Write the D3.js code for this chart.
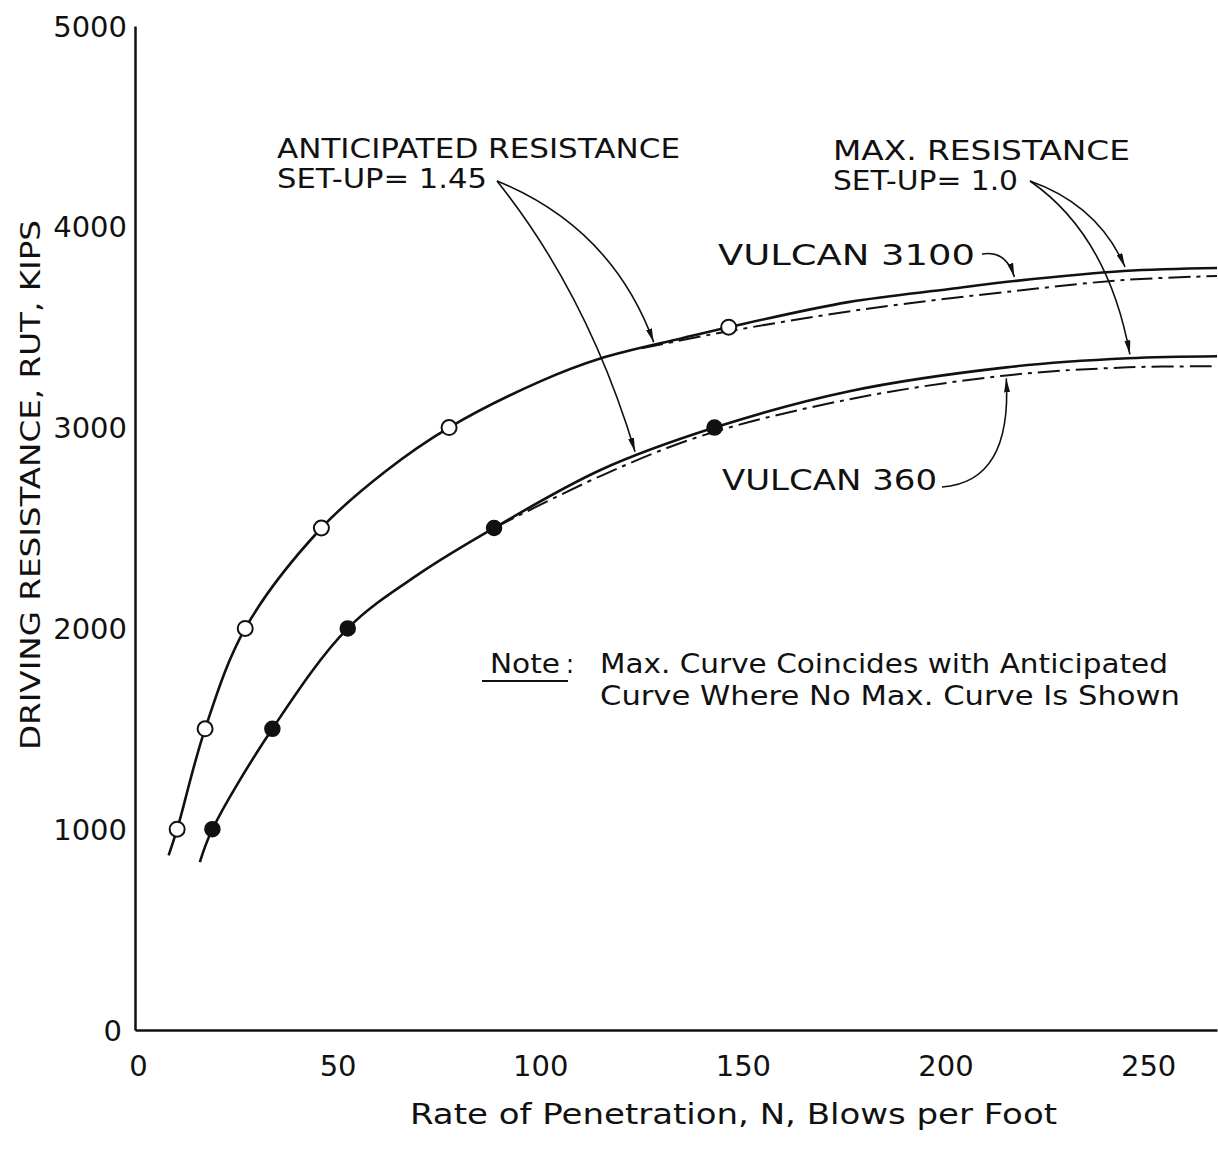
<!DOCTYPE html>
<html>
<head>
<meta charset="utf-8">
<script src="https://cdn.jsdelivr.net/npm/d3@7"></script>
<style>
  body { margin: 0; background: #fff; }
  svg { display: block; }
  text { font-family: "DejaVu Sans", "Liberation Sans", sans-serif; fill: #111; }
</style>
</head>
<body>
<svg width="1218" height="1158"></svg>
<script>
// Vulcan 3100 - anticipated resistance (solid) and test points (open circles)
const v3100Anticipated = [
    [8.3, 870], [10.4, 1000], [17.3, 1500], [27.2, 2000], [46, 2500], [62, 2785], [77.5, 3000],
    [100, 3230], [115, 3345], [135, 3445], [146.5, 3500], [176, 3625], [201, 3690],
    [217, 3730], [244, 3780], [267, 3795]
];
const v3100Points = [[10.4, 1000], [17.3, 1500], [27.2, 2000], [46, 2500], [77.5, 3000], [146.5, 3500]];
// Vulcan 3100 - max resistance (dash-dot), only where it leaves the anticipated curve
const v3100Max = [[125, 3395], [146.5, 3480], [180, 3590], [217, 3680], [244, 3735], [267, 3755]];

// Vulcan 360
const v360Anticipated = [
    [16, 836], [19.1, 1000], [33.9, 1500], [52.5, 2000], [70, 2270], [88.6, 2500], [115, 2790],
    [143, 3000], [176, 3180], [215, 3300], [245, 3345], [267, 3355]
];
const v360Points = [[19.1, 1000], [33.9, 1500], [52.5, 2000], [88.6, 2500], [143, 3000]];
const v360Max = [[88.6, 2500], [115, 2760], [140, 2960], [176, 3140], [215, 3260], [245, 3300], [267, 3305]];

// axis ticks
const xTicks = [0, 50, 100, 150, 200, 250];
const yTicks = [0, 1000, 2000, 3000, 4000, 5000];

const svg = d3.select("svg");

const x = d3.scaleLinear().domain([0, 267]).range([135, 1217]);
const y = d3.scaleLinear().domain([0, 5000]).range([1030, 26]);

// arrow head
svg.append("defs").append("marker")
    .attr("id", "arrow")
    .attr("viewBox", "0 0 14 6")
    .attr("refX", 14).attr("refY", 3)
    .attr("markerWidth", 14).attr("markerHeight", 6)
    .attr("markerUnits", "userSpaceOnUse")
    .attr("orient", "auto")
    .append("path")
    .attr("d", "M0,0 L14,3 L0,6 Z")
    .attr("fill", "#111");

// axes (no tick marks, just the lines and numbers)
const xAxis = svg.append("g")
    .attr("transform", `translate(0,${y(0)})`)
    .call(d3.axisBottom(x).tickValues(xTicks).tickSize(0).tickPadding(25).tickFormat(d3.format("d")));
const yAxis = svg.append("g")
    .attr("transform", `translate(${x(0)},0)`)
    .call(d3.axisLeft(y).tickValues(yTicks).tickSize(0).tickPadding(8).tickFormat(d3.format("d")));

[xAxis, yAxis].forEach(a => {
    a.select(".domain").attr("stroke", "#111").attr("stroke-width", 2.5);
    a.selectAll("text").attr("font-size", 29).attr("font-family", "DejaVu Sans").attr("fill", "#111");
});
yAxis.selectAll("text").attr("dy", "0.35em");
// the "0" on the y axis sits a bit lower/left in the drawing
yAxis.selectAll(".tick text").filter(d => d === 0).attr("x", -13);
xAxis.selectAll(".tick text").filter(d => d === 0).attr("dx", 3);

// curves
const line = d3.line()
    .x(d => x(d[0]))
    .y(d => y(d[1]))
    .curve(d3.curveCatmullRom.alpha(0.5));

const series = [
    { data: v3100Max, dash: "22,6,4,6", width: 2 },
    { data: v360Max, dash: "22,6,4,6", width: 2 },
    { data: v3100Anticipated, dash: null, width: 2.6 },
    { data: v360Anticipated, dash: null, width: 2.6 }
];

svg.selectAll("path.curve")
    .data(series)
    .enter()
    .append("path")
    .attr("class", "curve")
    .attr("d", d => line(d.data))
    .attr("fill", "none")
    .attr("stroke", "#111")
    .attr("stroke-width", d => d.width)
    .attr("stroke-dasharray", d => d.dash);

// test points
svg.selectAll("circle.open")
    .data(v3100Points)
    .enter()
    .append("circle")
    .attr("class", "open")
    .attr("cx", d => x(d[0]))
    .attr("cy", d => y(d[1]))
    .attr("r", 7.5)
    .attr("fill", "#fff")
    .attr("stroke", "#111")
    .attr("stroke-width", 2);

svg.selectAll("circle.filled")
    .data(v360Points)
    .enter()
    .append("circle")
    .attr("class", "filled")
    .attr("cx", d => x(d[0]))
    .attr("cy", d => y(d[1]))
    .attr("r", 7.5)
    .attr("fill", "#111")
    .attr("stroke", "#111")
    .attr("stroke-width", 1.5);

// leader arrows: start (pixels, at the label) -> tip (data space, on the curve)
const leaders = [
    { from: [497, 181], ctrl: [612, 228], tip: [128, 3425] },
    { from: [497, 181], ctrl: [588, 295], tip: [123.4, 2880] },
    { from: [1030, 181], ctrl: [1098, 205], tip: [244.3, 3800] },
    { from: [1030, 181], ctrl: [1108, 235], tip: [245.5, 3365] },
    { from: [982, 254], ctrl: [1006, 250], tip: [217, 3750] },
    { from: [942, 487], ctrl: [1012, 482], tip: [215, 3245] }
];

svg.selectAll("path.leader")
    .data(leaders)
    .enter()
    .append("path")
    .attr("class", "leader")
    .attr("d", d => `M${d.from[0]},${d.from[1]} Q${d.ctrl[0]},${d.ctrl[1]} ${x(d.tip[0])},${y(d.tip[1])}`)
    .attr("fill", "none")
    .attr("stroke", "#111")
    .attr("stroke-width", 1.6)
    .attr("marker-end", "url(#arrow)");

// labels
const labels = [
    { text: "ANTICIPATED RESISTANCE", x: 277, y: 158, size: 27, len: 403 },
    { text: "SET-UP= 1.45", x: 277, y: 188, size: 27, len: 210 },
    { text: "MAX. RESISTANCE", x: 833, y: 160, size: 27, len: 297 },
    { text: "SET-UP= 1.0", x: 833, y: 190, size: 27, len: 185 },
    { text: "VULCAN 3100", x: 718, y: 265, size: 29, len: 257 },
    { text: "VULCAN 360", x: 722, y: 490, size: 29, len: 215 },
    { text: "Note", x: 490, y: 673, size: 26, len: 70 },
    { text: ":", x: 566, y: 673, size: 26, len: 8 },
    { text: "Max. Curve Coincides with Anticipated", x: 600, y: 673, size: 26, len: 568 },
    { text: "Curve Where No Max. Curve Is Shown", x: 600, y: 705, size: 26, len: 580 },
    { text: "Rate of Penetration, N, Blows per Foot", x: 410, y: 1124, size: 28, len: 647 }
];

svg.selectAll("text.label")
    .data(labels)
    .enter()
    .append("text")
    .attr("class", "label")
    .attr("x", d => d.x)
    .attr("y", d => d.y)
    .attr("font-size", d => d.size)
    .attr("textLength", d => d.len)
    .attr("lengthAdjust", "spacingAndGlyphs")
    .text(d => d.text);

// underline under "Note"
svg.append("line")
    .attr("x1", 482).attr("x2", 568)
    .attr("y1", 681).attr("y2", 681)
    .attr("stroke", "#111").attr("stroke-width", 2);

// y axis title
svg.append("text")
    .attr("transform", "translate(40,485) rotate(-90)")
    .attr("text-anchor", "middle")
    .attr("font-size", 27)
    .attr("textLength", 530)
    .attr("lengthAdjust", "spacingAndGlyphs")
    .text("DRIVING RESISTANCE, RUT, KIPS");
</script>
</body>
</html>
